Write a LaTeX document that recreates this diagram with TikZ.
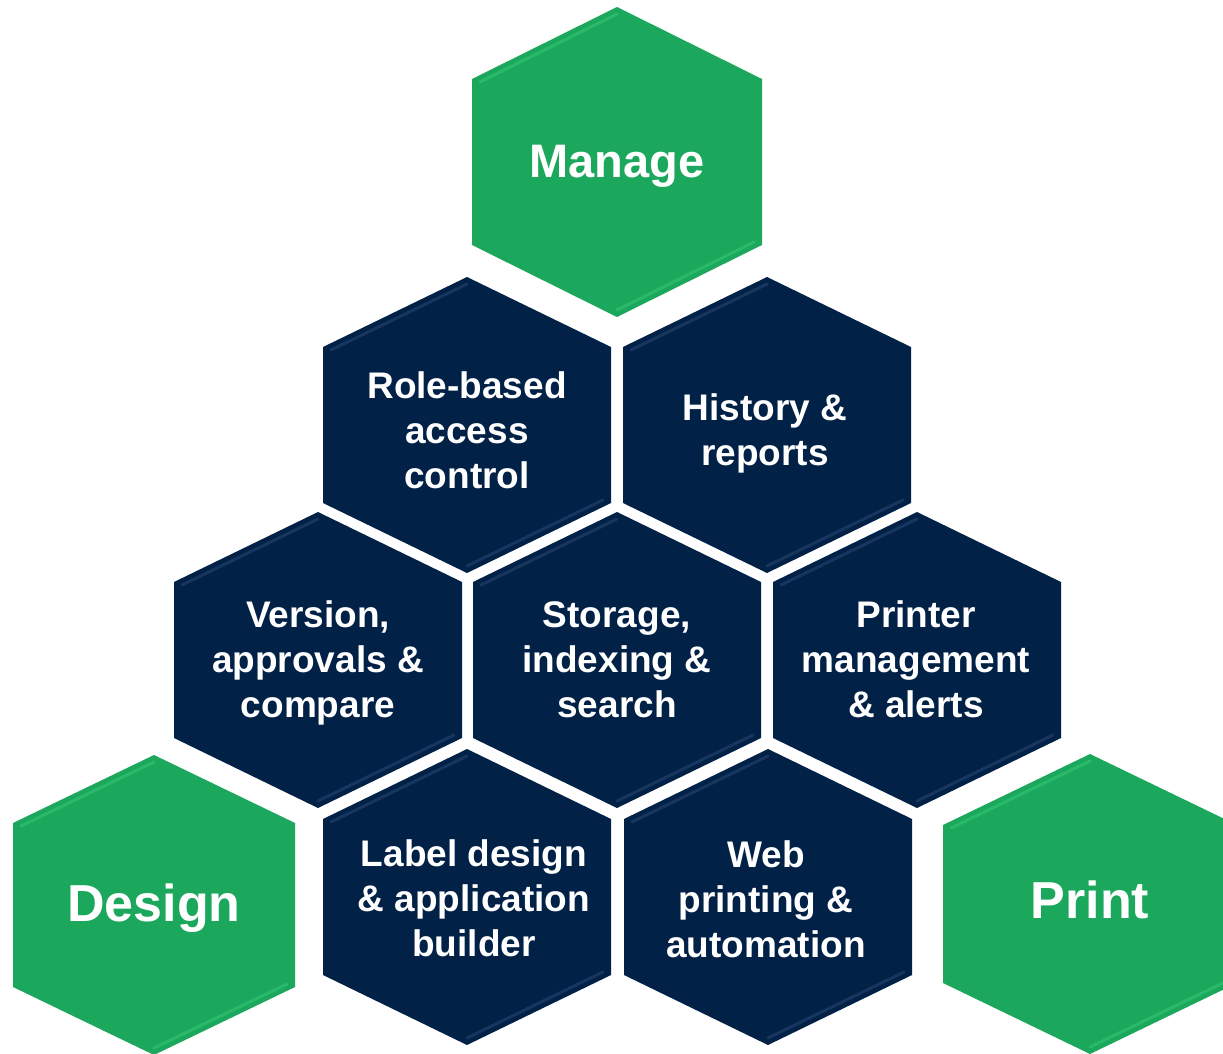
\documentclass[tikz,border=0pt]{standalone}
\usepackage{fontspec}
\setmainfont{Liberation Sans}
\definecolor{navy}{RGB}{2,33,71}
\definecolor{navybev}{RGB}{40,72,118}
\definecolor{hexgreen}{RGB}{28,168,92}
\definecolor{greenbev}{RGB}{52,200,118}
\newcommand\hexcell[7]{%
\begin{scope}[shift={(#1,#2)}]
 \fill[#6] (0,-#4) -- (#3,-#5) -- (#3,#5) -- (0,#4) -- (-#3,#5) -- (-#3,-#5) -- cycle;
 \draw[#7, line width=3pt, opacity=0.55, line cap=round] (-#3+8,-#5+3) -- (0,-#4+7);
 \draw[#7, line width=3pt, opacity=0.55, line cap=round] (#3-8,#5-3) -- (0,#4-7);
\end{scope}}
\tikzset{
  darktext/.style={text=white, font=\bfseries\fontsize{37}{45}\selectfont, align=center, inner sep=0pt},
  greentext/.style={text=white, font=\bfseries\fontsize{52}{60}\selectfont, inner sep=0pt},
}
\begin{document}
\begin{tikzpicture}[x=1pt,y=-1pt]
\useasboundingbox (0,0) rectangle (1223,1054);
\fill[white] (0,0) rectangle (1223,1054);
\begin{scope}
\clip (0,0) rectangle (1223,1054);
% green hexagons
\hexcell{617}{162}{145}{155}{83}{hexgreen}{greenbev}
\hexcell{154}{905}{141}{150}{82}{hexgreen}{greenbev}
\hexcell{1090}{904}{147}{150}{79}{hexgreen}{greenbev}
% navy hexagons
\hexcell{467}{425}{144}{148}{78}{navy}{navybev}
\hexcell{767}{425}{144}{148}{78}{navy}{navybev}
\hexcell{318}{660}{144}{148}{78}{navy}{navybev}
\hexcell{617}{660}{144}{148}{78}{navy}{navybev}
\hexcell{917}{660}{144}{148}{78}{navy}{navybev}
\hexcell{467}{897}{144}{148}{78}{navy}{navybev}
\hexcell{768}{897}{144}{148}{78}{navy}{navybev}
\end{scope}
% texts
\node[greentext, font=\bfseries\fontsize{47}{55}\selectfont] (manage) at (617,166) {Manage};
\node[greentext] (design) at (154,908) {Design};
\node[greentext] (print) at (1090,900) {Print};
\node[darktext] (role) at (467,430) {Role-based\\access\\control};
\node[darktext] (history) at (765,433) {History \&\\reports};
\node[darktext] (version) at (318,663) {Version,\\approvals \&\\compare};
\node[darktext] (storage) at (617,660) {Storage,\\indexing \&\\search};
\node[darktext] (printer) at (916,659) {Printer\\management\\\& alerts};
\node[darktext] (label) at (474,898) {Label design\\\& application\\builder};
\node[darktext] (web) at (766,899) {Web\\printing \&\\automation};
\end{tikzpicture}
\end{document}
